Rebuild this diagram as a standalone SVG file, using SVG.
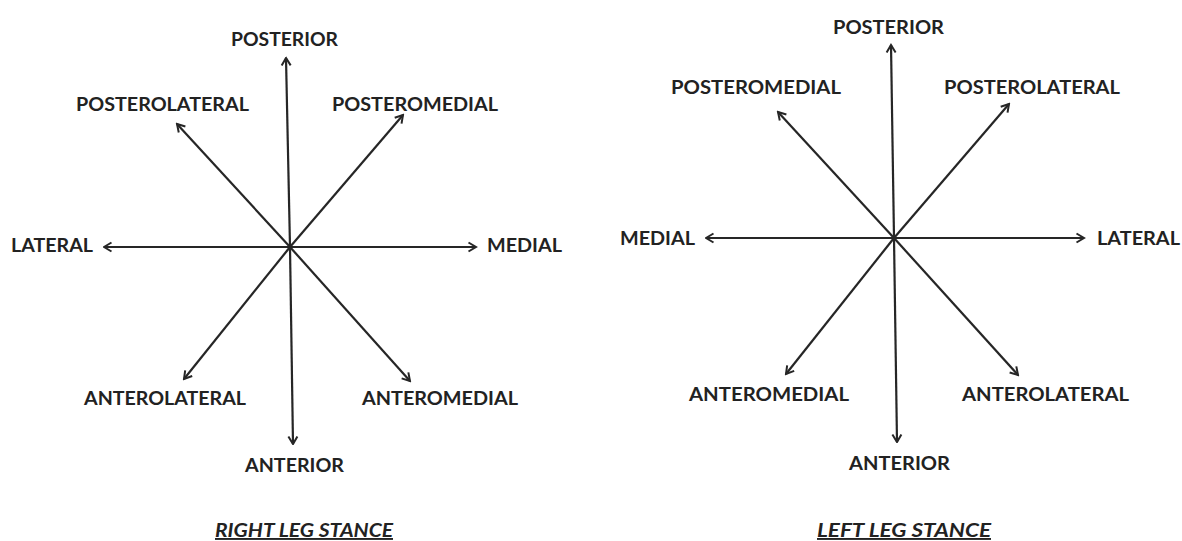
<svg xmlns="http://www.w3.org/2000/svg" width="1182" height="541" viewBox="0 0 1182 541">
<style>
.lbl{font-family:Lato,"Open Sans","Liberation Sans",sans-serif;font-weight:bold;font-size:19px;fill:#222222}
.ttl{font-family:Lato,"Open Sans","Liberation Sans",sans-serif;font-weight:bold;font-style:italic;font-size:19px;fill:#222222;text-decoration:underline}
.ax{stroke:#262626;stroke-width:2.2;fill:none;marker-end:url(#ah)}
</style>
<defs>
<marker id="ah" markerUnits="userSpaceOnUse" markerWidth="12" markerHeight="12" viewBox="0 0 12 12" refX="10.5" refY="6" orient="auto">
<path d="M3,1.5 L10.5,6 L3,10.5" fill="none" stroke="#262626" stroke-width="2"/>
</marker>
</defs>
<rect width="1182" height="541" fill="#ffffff"/>
<g id="connectors">
<line class="ax" x1="290" y1="247" x2="286" y2="58"/>
<line class="ax" x1="290" y1="247" x2="177" y2="124"/>
<line class="ax" x1="290" y1="247" x2="403" y2="115"/>
<line class="ax" x1="290" y1="247" x2="104" y2="247"/>
<line class="ax" x1="290" y1="247" x2="476" y2="247"/>
<line class="ax" x1="290" y1="247" x2="184" y2="379"/>
<line class="ax" x1="290" y1="247" x2="410" y2="381"/>
<line class="ax" x1="290" y1="247" x2="293" y2="444"/>
<line class="ax" x1="894" y1="238" x2="891" y2="45"/>
<line class="ax" x1="894" y1="238" x2="778" y2="112"/>
<line class="ax" x1="894" y1="238" x2="1009" y2="104"/>
<line class="ax" x1="894" y1="238" x2="706" y2="238"/>
<line class="ax" x1="894" y1="238" x2="1084" y2="238"/>
<line class="ax" x1="894" y1="238" x2="786" y2="374"/>
<line class="ax" x1="894" y1="238" x2="1018" y2="375"/>
<line class="ax" x1="894" y1="238" x2="897" y2="442"/>
</g>
<g id="right-leg">
<g id="r-posterior"><text class="lbl" x="231" y="46" textLength="107" lengthAdjust="spacingAndGlyphs">POSTERIOR</text></g>
<g id="r-posterolateral"><text class="lbl" x="76" y="111" textLength="173" lengthAdjust="spacingAndGlyphs">POSTEROLATERAL</text></g>
<g id="r-posteromedial"><text class="lbl" x="332" y="111" textLength="166" lengthAdjust="spacingAndGlyphs">POSTEROMEDIAL</text></g>
<g id="r-lateral"><text class="lbl" x="11" y="252" textLength="82" lengthAdjust="spacingAndGlyphs">LATERAL</text></g>
<g id="r-medial"><text class="lbl" x="487" y="252" textLength="75" lengthAdjust="spacingAndGlyphs">MEDIAL</text></g>
<g id="r-anterolateral"><text class="lbl" x="84" y="405" textLength="162" lengthAdjust="spacingAndGlyphs">ANTEROLATERAL</text></g>
<g id="r-anteromedial"><text class="lbl" x="362" y="405" textLength="156" lengthAdjust="spacingAndGlyphs">ANTEROMEDIAL</text></g>
<g id="r-anterior"><text class="lbl" x="245" y="472" textLength="99" lengthAdjust="spacingAndGlyphs">ANTERIOR</text></g>
<g id="r-title"><text class="ttl" x="215" y="537" textLength="178" lengthAdjust="spacingAndGlyphs">RIGHT LEG STANCE</text></g>
</g>
<g id="left-leg">
<g id="l-posterior"><text class="lbl" x="833" y="34" textLength="111" lengthAdjust="spacingAndGlyphs">POSTERIOR</text></g>
<g id="l-posteromedial"><text class="lbl" x="671" y="94" textLength="170" lengthAdjust="spacingAndGlyphs">POSTEROMEDIAL</text></g>
<g id="l-posterolateral"><text class="lbl" x="944" y="94" textLength="176" lengthAdjust="spacingAndGlyphs">POSTEROLATERAL</text></g>
<g id="l-medial"><text class="lbl" x="620" y="245" textLength="75" lengthAdjust="spacingAndGlyphs">MEDIAL</text></g>
<g id="l-lateral"><text class="lbl" x="1097" y="245" textLength="83" lengthAdjust="spacingAndGlyphs">LATERAL</text></g>
<g id="l-anteromedial"><text class="lbl" x="689" y="401" textLength="160" lengthAdjust="spacingAndGlyphs">ANTEROMEDIAL</text></g>
<g id="l-anterolateral"><text class="lbl" x="962" y="401" textLength="167" lengthAdjust="spacingAndGlyphs">ANTEROLATERAL</text></g>
<g id="l-anterior"><text class="lbl" x="849" y="470" textLength="101" lengthAdjust="spacingAndGlyphs">ANTERIOR</text></g>
<g id="l-title"><text class="ttl" x="817" y="537" textLength="174" lengthAdjust="spacingAndGlyphs">LEFT LEG STANCE</text></g>
</g>
</svg>
